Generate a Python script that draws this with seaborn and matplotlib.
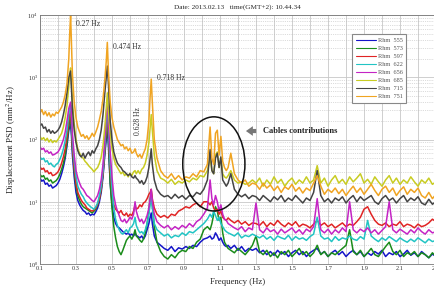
import numpy as np
import pandas as pd
import matplotlib
matplotlib.use("Agg")
import matplotlib.pyplot as plt
import seaborn as sns
from matplotlib.patches import Ellipse
from matplotlib.ticker import FixedLocator, LogLocator, NullFormatter

# ---------------- data ----------------
freq = [
    0.10, 0.11, 0.12, 0.13, 0.14, 0.15, 0.16, 0.17, 0.18, 0.19, 0.20, 0.21, 0.22, 0.23, 0.24, 0.25, 0.26,
    0.265, 0.27, 0.275,
    0.28, 0.29, 0.30, 0.31, 0.32, 0.33, 0.34, 0.35, 0.36, 0.37, 0.38, 0.39, 0.40, 0.41, 0.42, 0.43, 0.44, 0.45, 0.46,
    0.468, 0.474, 0.48,
    0.49, 0.50, 0.51, 0.52, 0.53, 0.54, 0.55, 0.56, 0.57, 0.58, 0.59, 0.60, 0.61, 0.62,
    0.628, 0.635,
    0.645, 0.655, 0.665, 0.675, 0.685, 0.695, 0.705,
    0.712, 0.718, 0.724, 0.735,
    0.75, 0.77, 0.79, 0.81, 0.83, 0.85, 0.87, 0.89, 0.91, 0.93, 0.95, 0.97, 0.99, 1.01,
    1.03,
    1.045, 1.055, 1.065, 1.075, 1.085, 1.095, 1.105, 1.115, 1.125, 1.135, 1.145,
    1.16, 1.18, 1.20, 1.22, 1.24, 1.26, 1.28,
    1.30, 1.32, 1.34, 1.36, 1.38, 1.40, 1.42, 1.44, 1.46, 1.48, 1.50, 1.52, 1.54, 1.56, 1.58, 1.60, 1.62,
    1.64, 1.66, 1.68, 1.70, 1.72, 1.74, 1.76, 1.78, 1.80, 1.82, 1.84, 1.86, 1.88, 1.90, 1.92, 1.94, 1.96,
    1.98, 2.00, 2.02, 2.04, 2.06, 2.08, 2.10, 2.12, 2.14, 2.16, 2.18, 2.20, 2.22, 2.24, 2.26, 2.28, 2.30,
]

# PSD values given as log10 (mm^2/Hz)
rhm555_log = [
    1.38, 1.33, 1.35, 1.28, 1.30, 1.25, 1.27, 1.22, 1.24, 1.26, 1.30, 1.36, 1.45, 1.56, 1.70, 1.90, 2.15,
    2.20, 2.25, 2.05,
    1.75, 1.40, 1.15, 1.02, 0.95, 0.90, 0.86, 0.84, 0.80, 0.82, 0.78, 0.80, 0.79, 0.84, 0.90, 1.00, 1.15, 1.40, 1.75,
    2.00, 2.20, 1.90,
    1.30, 0.95, 0.75, 0.65, 0.60, 0.58, 0.55, 0.52, 0.50, 0.48, 0.50, 0.46, 0.48, 0.45,
    0.50, 0.46,
    0.44, 0.42, 0.45, 0.40, 0.45, 0.55, 0.65,
    0.75, 0.82, 0.65, 0.45,
    0.35, 0.30, 0.25, 0.22, 0.28, 0.20, 0.26, 0.24, 0.28, 0.25, 0.30, 0.28, 0.35, 0.40,
    0.42,
    0.45, 0.40, 0.42, 0.50, 0.45, 0.38, 0.42, 0.35, 0.30, 0.28, 0.30,
    0.25, 0.30, 0.22, 0.28, 0.20, 0.25, 0.22,
    0.25, 0.18, 0.22, 0.15, 0.20, 0.14, 0.22, 0.16, 0.20, 0.12, 0.18, 0.22, 0.15, 0.20, 0.12, 0.18, 0.22,
    0.25, 0.16, 0.20, 0.12, 0.18, 0.22, 0.15, 0.20, 0.12, 0.18, 0.22, 0.15, 0.20, 0.12, 0.18, 0.14, 0.20,
    0.16, 0.22, 0.12, 0.18, 0.15, 0.20, 0.12, 0.16, 0.22, 0.14, 0.18, 0.12, 0.20, 0.15, 0.10, 0.16, 0.12,
]
rhm573_log = [
    1.44, 1.40, 1.42, 1.36, 1.38, 1.33, 1.35, 1.30, 1.32, 1.34, 1.38, 1.44, 1.52, 1.62, 1.75, 1.95, 2.20,
    2.30, 2.35, 2.15,
    1.85, 1.50, 1.25, 1.10, 1.02, 0.96, 0.92, 0.90, 0.88, 0.86, 0.84, 0.82, 0.85, 0.88, 0.95, 1.05, 1.20, 1.45, 1.80,
    2.10, 2.30, 2.00,
    1.30, 0.90, 0.60, 0.42, 0.28, 0.20, 0.15, 0.22, 0.30, 0.38, 0.42, 0.45, 0.40, 0.46,
    0.55, 0.45,
    0.42, 0.38, 0.35, 0.40, 0.50, 0.65, 0.85,
    1.05, 1.18, 0.95, 0.60,
    0.35, 0.20, 0.12, 0.08, 0.15, 0.10, 0.18, 0.22, 0.20, 0.28, 0.25, 0.35, 0.40, 0.55,
    0.60,
    0.55, 0.65, 0.80, 0.92, 0.85, 0.70, 0.75, 0.50, 0.35, 0.30, 0.25,
    0.22, 0.18, 0.25, 0.20, 0.15, 0.22, 0.30,
    0.45, 0.20, 0.15, 0.22, 0.12, 0.18, 0.10, 0.20, 0.15, 0.22, 0.12, 0.18, 0.25, 0.15, 0.20, 0.12, 0.18,
    0.30, 0.15, 0.20, 0.12, 0.18, 0.15, 0.20, 0.25, 0.30, 0.55, 0.20, 0.15, 0.22, 0.12, 0.18, 0.25, 0.15,
    0.12, 0.20, 0.28, 0.35, 0.20, 0.15, 0.22, 0.12, 0.18, 0.15, 0.20, 0.12, 0.18, 0.15, 0.10, 0.18, 0.12,
]
rhm597_log = [
    1.56, 1.52, 1.54, 1.48, 1.50, 1.45, 1.47, 1.42, 1.43, 1.45, 1.48, 1.54, 1.62, 1.72, 1.85, 2.05, 2.30,
    2.40, 2.45, 2.25,
    1.90, 1.55, 1.30, 1.15, 1.08, 1.02, 0.98, 0.95, 0.90, 0.88, 0.86, 0.85, 0.87, 0.90, 0.96, 1.05, 1.20, 1.45, 1.85,
    2.20, 2.40, 2.10,
    1.50, 1.15, 0.95, 0.88, 0.85, 0.82, 0.86, 0.80, 0.78, 0.82, 0.76, 0.80, 0.78, 0.85,
    0.95, 0.88,
    0.90, 0.95, 0.92, 0.98, 1.00, 1.05, 1.12,
    1.15, 1.20, 1.05, 0.90,
    0.80, 0.75, 0.78, 0.74, 0.80, 0.78, 0.85, 0.88, 0.92, 0.90, 0.95, 0.98, 0.92, 1.00,
    1.00,
    0.95, 1.00, 0.90, 0.85, 0.88, 0.80, 0.85, 0.75, 0.72, 0.70, 0.74,
    0.70, 0.66, 0.70, 0.64, 0.68, 0.62, 0.66,
    0.65, 0.62, 0.68, 0.60, 0.66, 0.62, 0.70, 0.64, 0.60, 0.66, 0.62, 0.68, 0.60, 0.64, 0.62, 0.58, 0.64,
    0.70, 0.62, 0.66, 0.60, 0.64, 0.58, 0.62, 0.66, 0.60, 0.64, 0.62, 0.68, 0.75, 0.88, 0.92, 0.80, 0.70,
    0.64, 0.62, 0.66, 0.60, 0.64, 0.62, 0.68, 0.60, 0.64, 0.62, 0.58, 0.64, 0.60, 0.62, 0.66, 0.72, 0.68,
]
rhm622_log = [
    1.72, 1.68, 1.70, 1.64, 1.66, 1.60, 1.62, 1.58, 1.56, 1.60, 1.62, 1.68, 1.75, 1.85, 1.98, 2.15, 2.40,
    2.50, 2.55, 2.35,
    2.00, 1.65, 1.40, 1.25, 1.18, 1.12, 1.08, 1.02, 0.98, 0.95, 0.92, 0.90, 0.88, 0.92, 0.98, 1.10, 1.25, 1.50, 1.90,
    2.30, 2.50, 2.20,
    1.60, 1.20, 0.90, 0.72, 0.62, 0.55, 0.50, 0.48, 0.52, 0.55, 0.50, 0.58, 0.60, 0.65,
    0.75, 0.62,
    0.55, 0.50, 0.52, 0.48, 0.55, 0.65, 0.80,
    0.95, 1.10, 0.90, 0.65,
    0.55, 0.50, 0.45, 0.48, 0.42, 0.46, 0.44, 0.50, 0.46, 0.52, 0.50, 0.55, 0.60, 0.65,
    0.72,
    0.80, 0.75, 0.85, 0.78, 0.70, 0.75, 0.65, 0.60, 0.55, 0.52, 0.50,
    0.48, 0.45, 0.50, 0.42, 0.46, 0.44, 0.48,
    0.45, 0.42, 0.46, 0.40, 0.44, 0.38, 0.45, 0.42, 0.40, 0.46, 0.38, 0.44, 0.40, 0.42, 0.38, 0.44, 0.48,
    0.75, 0.45, 0.40, 0.42, 0.36, 0.44, 0.38, 0.42, 0.40, 0.45, 0.40, 0.38, 0.44, 0.40, 0.70, 0.45, 0.40,
    0.36, 0.42, 0.38, 0.44, 0.40, 0.36, 0.42, 0.38, 0.35, 0.40, 0.36, 0.42, 0.38, 0.34, 0.40, 0.36, 0.38,
]
rhm656_log = [
    1.88, 1.84, 1.86, 1.80, 1.82, 1.78, 1.80, 1.75, 1.76, 1.78, 1.80, 1.85, 1.92, 2.00, 2.12, 2.30, 2.50,
    2.55, 2.60, 2.40,
    2.10, 1.75, 1.50, 1.38, 1.30, 1.23, 1.20, 1.15, 1.10, 1.08, 1.05, 1.02, 1.00, 1.05, 1.10, 1.20, 1.35, 1.60, 2.00,
    2.40, 2.60, 2.30,
    1.80, 1.40, 1.10, 0.95, 0.85, 0.78, 0.70, 0.68, 0.72, 0.66, 0.70, 0.75, 0.72, 0.80,
    1.00, 0.85,
    0.75, 0.68, 0.72, 0.65, 0.70, 0.78, 0.90,
    1.05, 1.20, 1.00, 0.80,
    0.68, 0.62, 0.58, 0.62, 0.55, 0.60, 0.56, 0.62, 0.58, 0.65, 0.60, 0.68, 0.72, 0.80,
    0.90,
    1.35, 1.05, 0.95, 1.10, 1.00, 0.85, 0.95, 0.80, 0.72, 0.70, 0.65,
    0.62, 0.58, 0.55, 0.60, 0.52, 0.58, 0.55,
    0.98, 0.55, 0.50, 0.58, 0.52, 0.55, 0.48, 0.56, 0.50, 0.54, 0.58, 0.50, 0.55, 0.48, 0.56, 0.52, 0.60,
    1.05, 0.55, 0.50, 0.56, 0.48, 0.55, 0.50, 0.58, 0.52, 1.00, 0.55, 0.50, 0.56, 0.52, 0.58, 0.50, 0.55,
    0.48, 0.54, 0.60, 1.00, 0.55, 0.50, 0.56, 0.52, 0.48, 0.55, 0.50, 0.58, 0.52, 0.48, 0.55, 0.50, 0.52,
]
rhm685_log = [
    2.05, 2.00, 2.03, 1.98, 2.02, 1.96, 2.00, 1.95, 1.98, 1.96, 2.00, 2.05, 2.10, 2.20, 2.35, 2.55, 2.85,
    3.05, 3.15, 2.90,
    2.60, 2.25, 2.00, 1.85, 1.78, 1.72, 1.70, 1.65, 1.62, 1.58, 1.55, 1.52, 1.48, 1.52, 1.55, 1.62, 1.72, 1.90, 2.20,
    2.50, 2.75, 2.45,
    2.10, 1.85, 1.70, 1.60, 1.55, 1.50, 1.45, 1.48, 1.42, 1.45, 1.40, 1.46, 1.42, 1.48,
    1.50, 1.45,
    1.50, 1.45, 1.52, 1.55, 1.62, 1.75, 1.95,
    2.20, 2.40, 2.15, 1.75,
    1.50, 1.38, 1.35, 1.30, 1.36, 1.28, 1.33, 1.30, 1.35, 1.32, 1.38, 1.35, 1.42, 1.40,
    1.50,
    1.70, 1.50, 1.45, 1.75, 1.80, 1.55, 1.70, 1.45, 1.40, 1.38, 1.42,
    1.50, 1.35, 1.30, 1.32, 1.28, 1.30, 1.35,
    1.30, 1.38, 1.25, 1.35, 1.28, 1.40, 1.30, 1.36, 1.25, 1.33, 1.38, 1.28, 1.35, 1.30, 1.40, 1.30, 1.35,
    1.58, 1.30, 1.38, 1.25, 1.35, 1.42, 1.30, 1.36, 1.28, 1.40, 1.32, 1.38, 1.45, 1.30, 1.36, 1.28, 1.40,
    1.32, 1.25, 1.35, 1.42, 1.30, 1.38, 1.28, 1.35, 1.30, 1.40, 1.32, 1.25, 1.35, 1.30, 1.38, 1.28, 1.32,
]
rhm715_log = [
    2.22, 2.25, 2.18, 2.20, 2.12, 2.16, 2.10, 2.14, 2.10, 2.12, 2.15, 2.20, 2.28, 2.40, 2.55, 2.75, 3.00,
    3.05, 3.10, 2.80,
    2.50, 2.15, 1.95, 1.82, 1.75, 1.72, 1.78, 1.70, 1.76, 1.80, 1.74, 1.82, 1.78, 1.85, 1.90, 2.00, 2.15, 2.40, 2.75,
    3.00, 3.18, 2.90,
    2.30, 2.00, 1.80, 1.70, 1.62, 1.58, 1.55, 1.50, 1.48, 1.45, 1.42, 1.45, 1.40, 1.38,
    1.42, 1.38,
    1.35, 1.30, 1.34, 1.28, 1.32, 1.40, 1.55,
    1.70, 1.85, 1.60, 1.35,
    1.20, 1.12, 1.08, 1.10, 1.05, 1.12, 1.06, 1.10, 1.04, 1.10, 1.08, 1.15, 1.12, 1.20,
    1.35,
    1.84, 1.50, 1.45, 1.70, 1.78, 1.55, 1.72, 1.35, 1.30, 1.25, 1.30,
    1.45, 1.20, 1.12, 1.08, 1.12, 1.05, 1.10,
    1.08, 1.02, 1.10, 1.05, 1.00, 1.08, 1.03, 1.10, 1.00, 1.06, 1.02, 1.10, 1.04, 0.98, 1.06, 1.02, 1.15,
    1.50, 1.10, 1.00, 1.05, 0.98, 1.06, 1.02, 1.08, 0.98, 1.05, 1.10, 1.00, 1.08, 1.02, 1.06, 1.10, 1.00,
    0.96, 1.05, 1.10, 1.02, 1.06, 0.98, 1.05, 1.10, 1.00, 1.06, 1.02, 1.08, 0.98, 0.95, 1.04, 0.96, 1.00,
]
rhm751_log = [
    2.42, 2.48, 2.40, 2.45, 2.38, 2.43, 2.36, 2.41, 2.38, 2.44, 2.42, 2.47, 2.52, 2.60, 2.72, 2.90, 3.30,
    3.70, 4.00, 3.50,
    3.05, 2.60, 2.35, 2.20, 2.12, 2.05, 2.08, 2.02, 2.06, 2.00, 2.04, 2.10, 2.05, 2.12, 2.20, 2.32, 2.45, 2.65, 2.95,
    3.25, 3.56, 3.10,
    2.60, 2.35, 2.20, 2.10, 2.00, 1.95, 1.90, 1.92, 1.85, 1.88, 1.82, 1.86, 1.78, 1.80,
    1.85, 1.78,
    1.72, 1.76, 1.70, 1.78, 1.85, 2.00, 2.30,
    2.70, 2.97, 2.60, 2.00,
    1.70, 1.50, 1.42, 1.38, 1.45, 1.36, 1.42, 1.35, 1.40, 1.38, 1.45, 1.40, 1.50, 1.48,
    1.60,
    2.20, 1.70, 1.60, 2.10, 2.15, 1.75, 2.05, 1.65, 1.55, 1.50, 1.55,
    1.78, 1.45, 1.35, 1.30, 1.35, 1.25, 1.30,
    1.28, 1.20, 1.30, 1.22, 1.27, 1.18, 1.25, 1.15, 1.24, 1.20, 1.28, 1.17, 1.23, 1.14, 1.22, 1.18, 1.30,
    1.42, 1.25, 1.12, 1.20, 1.15, 1.22, 1.13, 1.20, 1.10, 1.18, 1.25, 1.15, 1.22, 1.12, 1.20, 1.28, 1.18,
    1.10, 1.20, 1.25, 1.15, 1.22, 1.10, 1.18, 1.24, 1.12, 1.20, 1.15, 1.22, 1.10, 1.06, 1.15, 1.05, 1.12,
]

sensors = ["Rhm  555", "Rhm  573", "Rhm  597", "Rhm  622", "Rhm  656", "Rhm  685", "Rhm  715", "Rhm  751"]
series_log = [rhm555_log, rhm573_log, rhm597_log, rhm622_log, rhm656_log, rhm685_log, rhm715_log, rhm751_log]
colors = ["#1515c8", "#1a8c1a", "#e02424", "#22c4c4", "#c424c4", "#c8cc22", "#444444", "#f0a422"]

x_ticks = [0.1, 0.3, 0.5, 0.7, 0.9, 1.1, 1.3, 1.5, 1.7, 1.9, 2.1, 2.3]
x_tick_labels = ["0.1", "0.3", "0.5", "0.7", "0.9", "1.1", "1.3", "1.5", "1.7", "1.9", "2.1", "2.3"]

# ---------------- build table ----------------
frames = []
for name, vals in zip(sensors, series_log):
    if len(vals) != len(freq):
        raise ValueError(f"{name}: {len(vals)} values vs {len(freq)} freqs")
    frames.append(pd.DataFrame({"freq": freq, "psd": np.power(10.0, vals), "sensor": name}))
df = pd.concat(frames, ignore_index=True)

# ---------------- plot ----------------
sns.set_style("white")
plt.rcParams["font.family"] = ["Liberation Serif", "DejaVu Serif"]
plt.rcParams["mathtext.fontset"] = "stix"

fig = plt.figure(figsize=(4.35, 2.91), dpi=100)
ax = fig.add_axes([40 / 435, 27 / 291, 396 / 435, 249 / 291])

sns.lineplot(data=df, x="freq", y="psd", hue="sensor", hue_order=sensors,
             palette=dict(zip(sensors, colors)), estimator=None, sort=False,
             linewidth=1.1, ax=ax)

ax.set_yscale("log")
ax.set_xlim(0.1, 2.3)
ax.set_ylim(1, 1e4)

ax.xaxis.set_major_locator(FixedLocator(x_ticks))
ax.set_xticklabels(x_tick_labels)
ax.xaxis.set_minor_locator(FixedLocator([0.2, 0.4, 0.6, 0.8, 1.0, 1.2, 1.4, 1.6, 1.8, 2.0, 2.2]))
ax.yaxis.set_major_locator(LogLocator(base=10, numticks=10))
ax.yaxis.set_minor_locator(LogLocator(base=10, subs=np.arange(2, 10), numticks=20))
ax.yaxis.set_minor_formatter(NullFormatter())

ax.grid(True, which="major", axis="both", color="#c8c8c8", linewidth=0.6, linestyle="-")
ax.grid(True, which="minor", axis="x", color="#c8c8c8", linewidth=0.6, linestyle="-")
ax.grid(True, which="minor", axis="y", color="#bbbbbb", linewidth=0.5, linestyle=":")
ax.set_axisbelow(True)

ax.tick_params(axis="both", which="both", direction="in", labelsize=4.5, colors="#333333",
               length=2, width=0.5, pad=1.5)
ax.tick_params(axis="both", which="minor", length=1)
for s in ax.spines.values():
    s.set_color("#777777")
    s.set_linewidth(0.6)

ax.set_xlabel("Frequency (Hz)", fontsize=6.3, labelpad=5)
ax.set_ylabel("Displacement PSD (mm$^2$/Hz)", fontsize=6.5, labelpad=7)
fig.text(237 / 435, 1 - 7 / 291, "Date: 2013.02.13   time(GMT+2): 10.44.34",
         ha="center", va="center", fontsize=5.2)

# peak annotations
ax.text(0.30, 10 ** 3.85, "0.27 Hz", fontsize=5.5, ha="left", va="center", color="#333333")
ax.text(0.505, 10 ** 3.49, "0.474 Hz", fontsize=5.5, ha="left", va="center", color="#333333")
ax.text(0.75, 10 ** 2.98, "0.718 Hz", fontsize=5.5, ha="left", va="center", color="#333333")
ax.text(0.642, 10 ** 2.30, "0.628 Hz", fontsize=5.5, ha="center", va="center", rotation=90,
        color="#333333")

# ellipse and arrow for cable contributions
ell = Ellipse((0.439, 0.402), 0.157, 0.378, transform=ax.transAxes, fill=False,
              edgecolor="#111111", linewidth=1.1, zorder=5)
ax.add_patch(ell)
ax.annotate("", xy=(0.513, 0.534), xytext=(0.553, 0.534), xycoords="axes fraction",
            arrowprops=dict(arrowstyle="simple,head_length=0.5,head_width=0.7,tail_width=0.3",
                            color="#777777", lw=0), zorder=6)
ax.text(0.563, 0.534, "Cables contributions", transform=ax.transAxes, fontsize=6,
        fontweight="bold", ha="left", va="center", color="#222222")

# legend
handles, labels = ax.get_legend_handles_labels()
leg = ax.legend(handles, labels, loc="upper left", bbox_to_anchor=(0.781, 0.935),
                fontsize=4.5, frameon=True, fancybox=False, framealpha=1,
                edgecolor="#888888", handlelength=3.2, handletextpad=0.3,
                labelspacing=0.42, borderpad=0.55, title=None)
leg.get_frame().set_linewidth(0.8)
for line in leg.get_lines():
    line.set_linewidth(0.8)
for t in leg.get_texts():
    t.set_color("#555555")

fig.savefig("out.png", dpi=100)
